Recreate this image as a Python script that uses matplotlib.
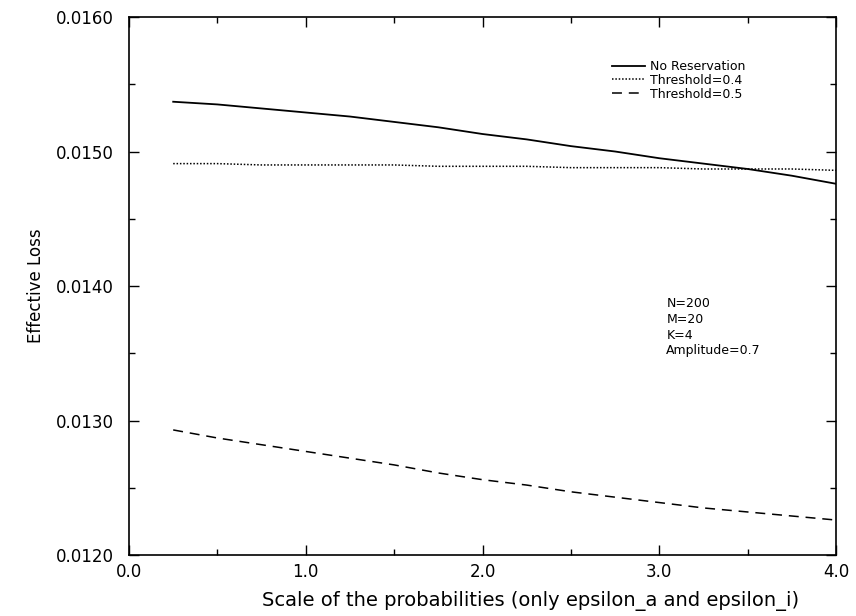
#Import modules
import matplotlib
matplotlib.use("Agg")
import matplotlib.pyplot as plt
from matplotlib.ticker import MultipleLocator, FormatStrFormatter

#Chart data
scale = [0.25, 0.5, 0.75, 1.0, 1.25, 1.5, 1.75, 2.0,
         2.25, 2.5, 2.75, 3.0, 3.25, 3.5, 3.75, 4.0]
noReservation = [0.01537, 0.01535, 0.01532, 0.01529, 0.01526, 0.01522, 0.01518, 0.01513,
                 0.01509, 0.01504, 0.01500, 0.01495, 0.01491, 0.01487, 0.01482, 0.01476]
threshold04 = [0.01491, 0.01491, 0.01490, 0.01490, 0.01490, 0.01490, 0.01489, 0.01489,
               0.01489, 0.01488, 0.01488, 0.01488, 0.01487, 0.01487, 0.01487, 0.01486]
threshold05 = [0.01293, 0.01287, 0.01282, 0.01277, 0.01272, 0.01267, 0.01261, 0.01256,
               0.01252, 0.01247, 0.01243, 0.01239, 0.01235, 0.01232, 0.01229, 0.01226]
seriesNames = ["No Reservation", "Threshold=0.4", "Threshold=0.5"]
paramText = ["N=200", "M=20", "K=4", "Amplitude=0.7"]

plt.rcParams['font.family'] = ['DejaVu Sans']

#Figure setup
fig = plt.figure(figsize=(8.56, 6.16), dpi=100)
ax = fig.add_axes([0.1507, 0.099, 0.826, 0.8734])

#Plot lines
ax.plot(scale, noReservation, color='black', linewidth=1.3, label=seriesNames[0])
ax.plot(scale, threshold04, color='black', linewidth=1.1, dashes=(1.0, 1.2), label=seriesNames[1])
ax.plot(scale, threshold05, color='black', linewidth=1.1, dashes=(6.5, 4.5), label=seriesNames[2])

#Axes limits and ticks
ax.set_xlim(0.0, 4.0)
ax.set_ylim(0.0120, 0.0160)
ax.xaxis.set_major_locator(MultipleLocator(1.0))
ax.xaxis.set_minor_locator(MultipleLocator(0.5))
ax.yaxis.set_major_locator(MultipleLocator(0.001))
ax.yaxis.set_minor_locator(MultipleLocator(0.0005))
ax.xaxis.set_major_formatter(FormatStrFormatter('%.1f'))
ax.yaxis.set_major_formatter(FormatStrFormatter('%.4f'))
ax.tick_params(which='both', direction='in', top=True, right=True, labelsize=12, width=1.0)
ax.tick_params(which='major', length=7)
ax.tick_params(which='minor', length=4)
ax.tick_params(axis='x', pad=6)
ax.tick_params(axis='y', pad=11)
for spine in ax.spines.values():
    spine.set_linewidth(1.2)

#Labels (x label sits right of centre in the reference)
ax.set_xlabel("Scale of the probabilities (only epsilon_a and epsilon_i)", fontsize=14, labelpad=5)
ax.xaxis.set_label_coords(0.5686, -0.066)
ax.set_ylabel("Effective Loss", fontsize=12, labelpad=8)

#Legend
ax.legend(loc='upper left', bbox_to_anchor=(0.6755, 0.9294), frameon=False, fontsize=9,
          handlelength=2.64, handletextpad=0.4, labelspacing=0.07, borderaxespad=0)

#Parameter text
ax.text(0.76, 0.4796, "\n".join(paramText), transform=ax.transAxes, fontsize=9,
        va='top', ha='left', linespacing=1.28)

plt.savefig("out.png", dpi=100)
